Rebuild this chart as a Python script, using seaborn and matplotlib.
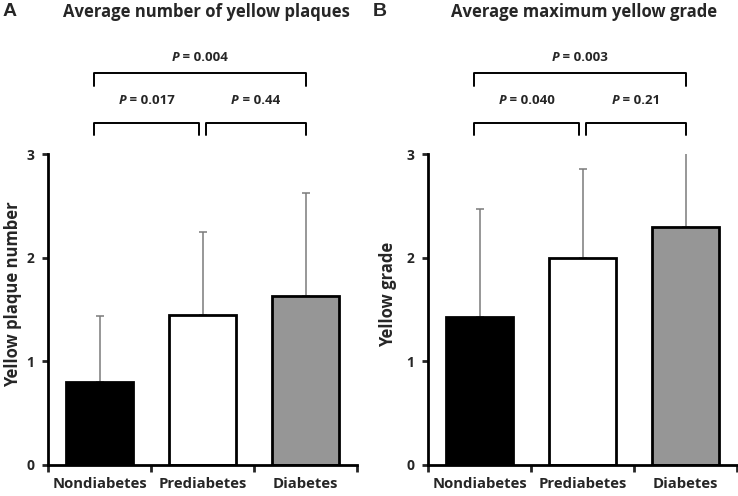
import numpy as np
import pandas as pd
import matplotlib
matplotlib.use("Agg")
import matplotlib.pyplot as plt
import seaborn as sns
from matplotlib.offsetbox import TextArea, HPacker, AnnotationBbox

# data
groups = ["Nondiabetes", "Prediabetes", "Diabetes"]
plaque_mean = [0.80, 1.45, 1.63]
plaque_sd = [0.64, 0.80, 0.99]
grade_mean = [1.43, 2.00, 2.30]
grade_sd = [1.04, 0.86, 0.71]
bar_colors = ["#000000", "#ffffff", "#969696"]

# pairwise comparisons: (left group, right group, label)
plaque_pvals = [(0, 1, "0.017"), (1, 2, "0.44"), (0, 2, "0.004")]
grade_pvals = [(0, 1, "0.040"), (1, 2, "0.21"), (0, 2, "0.003")]

FONT = "Open Sans"

sns.set_theme(style="ticks")
plt.rcParams["font.family"] = [FONT, "DejaVu Sans"]
plt.rcParams["font.weight"] = "bold"

fig = plt.figure(figsize=(7.38, 4.96), dpi=100)
ax_a = fig.add_axes([48 / 738, 1 - 465 / 496, 309 / 738, 311 / 496])
ax_b = fig.add_axes([428 / 738, 1 - 465 / 496, 309 / 738, 311 / 496])


def p_label(ax, x, y, value):
    p = TextArea("P", textprops=dict(fontsize=9.5, fontweight="bold", style="italic", family=FONT))
    rest = TextArea(" = " + value, textprops=dict(fontsize=9.5, fontweight="bold", family=FONT))
    box = HPacker(children=[p, rest], align="baseline", pad=0, sep=0)
    ab = AnnotationBbox(box, (x, y), xycoords="data", frameon=False,
                        box_alignment=(0.5, 0.5), annotation_clip=False)
    ax.add_artist(ab)


def bracket(ax, x0, x1, ybot, ytop):
    ax.plot([x0, x0, x1, x1], [ybot, ytop, ytop, ybot], color="black",
            lw=1.4, clip_on=False, solid_joinstyle="round")


def draw_panel(ax, means, sds, pvals, ylabel, label_x):
    df = pd.DataFrame({"group": groups, "value": means})
    sns.barplot(data=df, x="group", y="value", hue="group", palette=bar_colors,
                edgecolor="black", linewidth=2, width=0.66, legend=False,
                errorbar=None, ax=ax, zorder=2)
    x = np.arange(len(groups))
    ax.errorbar(x, means, yerr=[np.zeros(len(sds)), sds], fmt="none",
                ecolor="#7a7a7a", elinewidth=1.1, capsize=3, capthick=1.1, zorder=1)
    ax.set_xlim(-0.5, 2.5)
    ax.set_ylim(0, 3)
    ax.set_yticks([0, 1, 2, 3])
    ax.set_yticklabels(["0", "1", "2", "3"], fontsize=10, fontweight="bold")
    ax.set_xticks([-0.5, 0.5, 1.5, 2.5])
    ax.set_xticklabels([])
    ax.set_xticks(x, minor=True)
    ax.set_xticklabels(groups, minor=True, fontsize=10.7, fontweight="bold")
    ax.tick_params(axis="x", which="major", length=5, width=2, direction="out")
    ax.tick_params(axis="x", which="minor", length=0, pad=9)
    ax.tick_params(axis="y", length=4, width=2, direction="out", pad=6)
    ax.set_xlabel("")
    ax.set_ylabel(ylabel, fontsize=12, fontweight="bold")
    ax.yaxis.set_label_coords(label_x, 0.55)
    for side in ["top", "right"]:
        ax.spines[side].set_visible(False)
    for side in ["left", "bottom"]:
        ax.spines[side].set_linewidth(2)
        ax.spines[side].set_color("black")

    # significance brackets
    for i, j, val in pvals:
        if j - i == 1:
            x0 = i - 0.05 if i == 0 else i + 0.03
            x1 = j - 0.03 if j == 1 else j
            bracket(ax, x0, x1, 3.18, 3.30)
            p_label(ax, (x0 + x1) / 2, 3.52, val)
        else:
            bracket(ax, i - 0.05, j, 3.66, 3.78)
            p_label(ax, (i - 0.05 + j) / 2, 3.93, val)


draw_panel(ax_a, plaque_mean, plaque_sd, plaque_pvals, "Yellow plaque number", -0.084)
draw_panel(ax_b, grade_mean, grade_sd, grade_pvals, "Yellow grade", -0.10)

fig.text(206 / 738, 1 - 12 / 496, "Average number of yellow plaques", ha="center", va="center",
         fontsize=12, fontweight="bold")
fig.text(584 / 738, 1 - 12 / 496, "Average maximum yellow grade", ha="center", va="center",
         fontsize=12, fontweight="bold")
fig.text(3 / 738, 1 - 12 / 496, "A", ha="left", va="center", fontsize=14, fontweight="bold",
         family="Liberation Sans")
fig.text(373 / 738, 1 - 12 / 496, "B", ha="left", va="center", fontsize=14, fontweight="bold",
         family="Liberation Sans")

fig.savefig("out.png", dpi=100, facecolor="white")
